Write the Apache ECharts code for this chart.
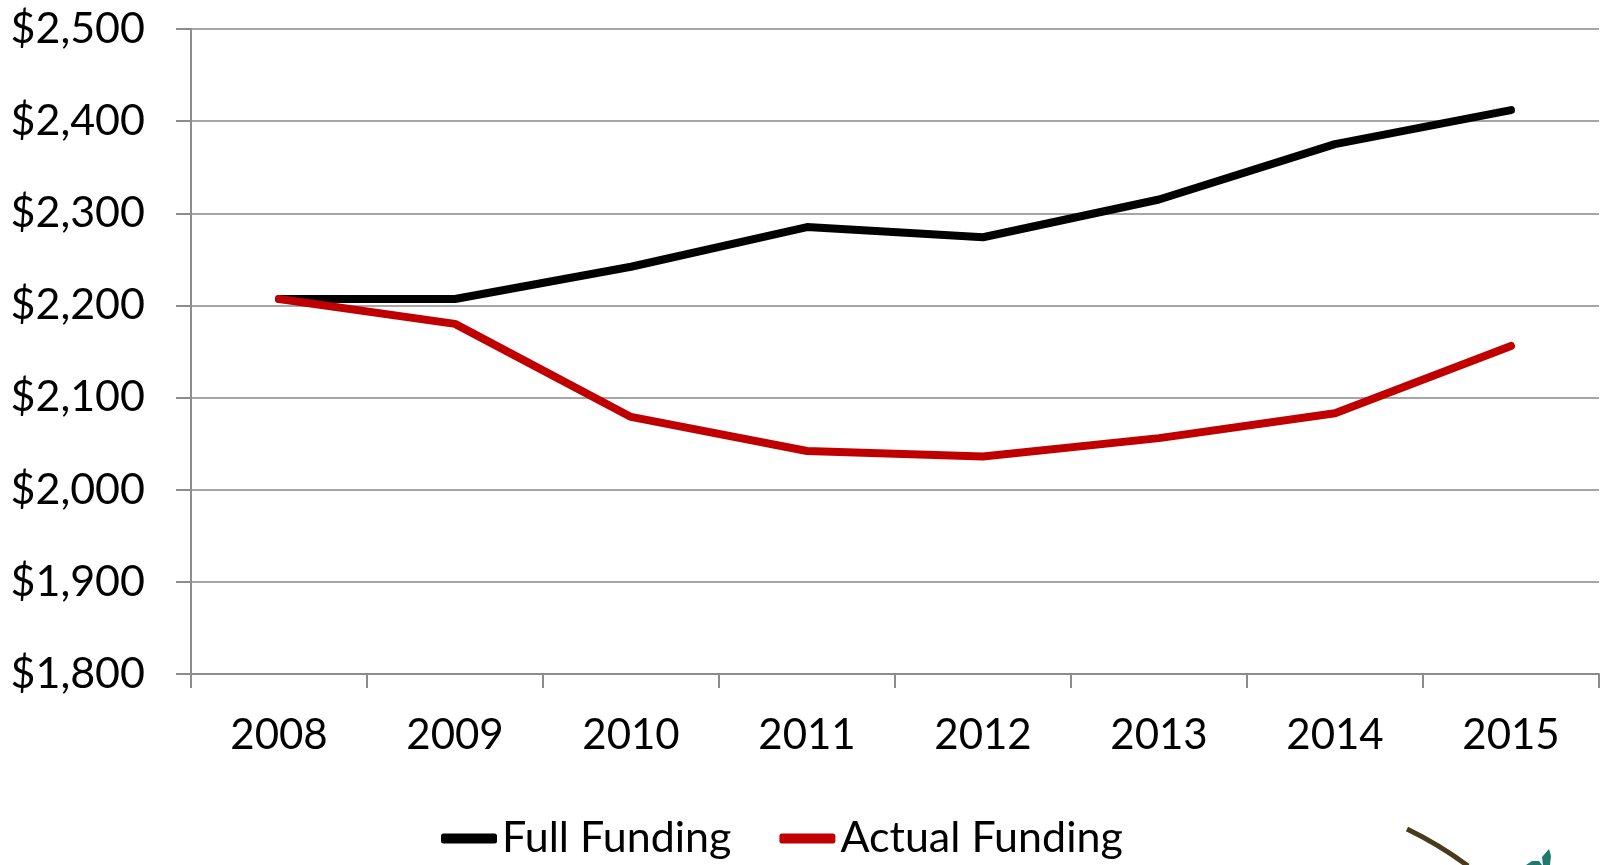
<!DOCTYPE html>
<html>
<head>
<meta charset="utf-8">
<script src="https://cdn.jsdelivr.net/npm/echarts@6/dist/echarts.min.js"></script>
<style>
  html, body { margin: 0; padding: 0; background: #fff; }
  #chart { width: 1606px; height: 865px; }
</style>
</head>
<body>
<div id="chart"></div>
<script>
// data
const years = ['2008', '2009', '2010', '2011', '2012', '2013', '2014', '2015']
const fullFunding = [2207, 2207, 2242, 2285, 2274, 2315, 2375, 2412]
const actualFunding = [2207, 2180, 2079, 2042, 2036, 2056, 2083, 2156]
const seriesNames = ['Full Funding', 'Actual Funding']

const font = 'Lato, "Open Sans", sans-serif'
const gridColor = '#a6a6a6'
const axisColor = '#8c8c8c'

const chart = echarts.init(document.getElementById('chart'))

const makeLine = (name, data, color) => ({
  name,
  type: 'line',
  data,
  symbol: 'none',
  lineStyle: { color, width: 8, cap: 'round', join: 'round' },
  itemStyle: { color },
  emphasis: { disabled: true }
})

chart.setOption({
  animation: false,
  backgroundColor: '#fff',
  grid: { left: 191, right: 7, top: 29, bottom: 191 },
  legend: {
    bottom: 0,
    left: 436,
    itemWidth: 56,
    itemHeight: 10,
    itemGap: 48,
    icon: 'roundRect',
    textStyle: { fontFamily: font, fontSize: 43, color: '#000' },
    data: seriesNames
  },
  xAxis: {
    type: 'category',
    data: years,
    boundaryGap: true,
    axisLine: { lineStyle: { color: axisColor, width: 2 } },
    axisTick: { show: true, length: 14, lineStyle: { color: axisColor, width: 2 } },
    axisLabel: { fontFamily: font, fontSize: 42, color: '#000', margin: 40 }
  },
  yAxis: {
    type: 'value',
    min: 1800,
    max: 2500,
    interval: 100,
    axisLine: { show: true, lineStyle: { color: axisColor, width: 2 } },
    axisTick: { show: true, length: 15, lineStyle: { color: axisColor, width: 2 } },
    splitLine: { lineStyle: { color: gridColor, width: 2 } },
    axisLabel: {
      fontFamily: font,
      fontSize: 43,
      color: '#000',
      margin: 46,
      formatter: v => '$' + v.toLocaleString('en-US')
    }
  },
  series: [
    makeLine(seriesNames[0], fullFunding, '#000000'),
    makeLine(seriesNames[1], actualFunding, '#c00000')
  ],
  // corner of a logo that is cut off by the picture's edge
  graphic: [
    {
      type: 'bezierCurve',
      shape: { x1: 1407, y1: 829, x2: 1468, y2: 866, cpx1: 1440, cpy1: 845 },
      style: { stroke: '#4a3a1c', lineWidth: 5, fill: null }
    },
    {
      type: 'polygon',
      shape: { points: [[1549, 849], [1542, 857], [1543, 865], [1550, 865], [1551, 856]] },
      style: { fill: '#1f7a6e' }
    },
    {
      type: 'polygon',
      shape: { points: [[1526, 865], [1532, 861], [1539, 861], [1542, 865]] },
      style: { fill: '#1f7a6e' }
    }
  ]
})

window.addEventListener('resize', () => chart.resize())
</script>
</body>
</html>
